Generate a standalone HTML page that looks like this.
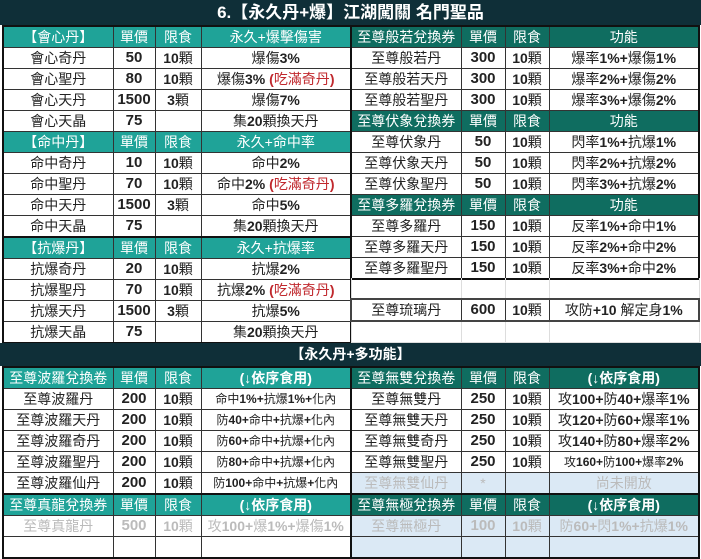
<!DOCTYPE html><html><head><meta charset="utf-8"><style>
body{margin:0;width:701px;height:540px;overflow:hidden;background:#fff;font-family:"Liberation Sans","Noto Sans CJK TC",sans-serif;position:relative}
.bar{position:absolute;left:0;width:701px;background:#0f2f38;color:#fff;font-weight:bold;text-align:center}
table{position:absolute;border-collapse:collapse;table-layout:fixed;font-size:14px;color:#222;border:2px solid #111}
td{border:1px solid #333;height:20px;padding:0;text-align:center;white-space:nowrap;overflow:hidden;line-height:20px}
tr.h td{background:#1fa398;color:#fff;font-size:14px}
tr.hd td{background:#0f6d60;color:#fff}
td.n{font-weight:bold;font-size:15px}
.red{color:#c0282d}
.y{color:#e8f03a;font-weight:bold}
.s{font-size:12px}
tr.g td{color:#bbb}
tr.gb td{color:#bbb;background:#dbe9f5}
</style></head><body>
<div class="bar" style="top:0;height:25px;line-height:25px;font-size:17px">6.【永久丹+爆】江湖闖關 名門聖品</div>

<table style="left:2px;top:25px;width:348px">
<col style="width:110px"><col style="width:42px"><col style="width:46px"><col style="width:150px">
<tr class="h"><td>【會心丹】</td><td>單價</td><td>限食</td><td>永久+爆擊傷害</td></tr>
<tr><td>會心奇丹</td><td class="n">50</td><td><b>10</b>顆</td><td>爆傷<b>3%</b></td></tr>
<tr><td>會心聖丹</td><td class="n">80</td><td><b>10</b>顆</td><td>爆傷<b>3%</b> <span class="red"><b>(</b>吃滿奇丹<b>)</b></span></td></tr>
<tr><td>會心天丹</td><td class="n">1500</td><td><b>3</b>顆</td><td>爆傷<b>7%</b></td></tr>
<tr><td>會心天晶</td><td class="n">75</td><td></td><td>集<b>20</b>顆換天丹</td></tr>
<tr class="h"><td>【命中丹】</td><td>單價</td><td>限食</td><td>永久+命中率</td></tr>
<tr><td>命中奇丹</td><td class="n">10</td><td><b>10</b>顆</td><td>命中<b>2%</b></td></tr>
<tr><td>命中聖丹</td><td class="n">70</td><td><b>10</b>顆</td><td>命中<b>2%</b> <span class="red"><b>(</b>吃滿奇丹<b>)</b></span></td></tr>
<tr><td>命中天丹</td><td class="n">1500</td><td><b>3</b>顆</td><td>命中<b>5%</b></td></tr>
<tr style="border-bottom:2px solid #111"><td>命中天晶</td><td class="n">75</td><td></td><td>集<b>20</b>顆換天丹</td></tr>
<tr class="h"><td>【抗爆丹】</td><td>單價</td><td>限食</td><td>永久+抗爆率</td></tr>
<tr><td>抗爆奇丹</td><td class="n">20</td><td><b>10</b>顆</td><td>抗爆<b>2%</b></td></tr>
<tr><td>抗爆聖丹</td><td class="n">70</td><td><b>10</b>顆</td><td>抗爆<b>2%</b> <span class="red"><b>(</b>吃滿奇丹<b>)</b></span></td></tr>
<tr><td>抗爆天丹</td><td class="n">1500</td><td><b>3</b>顆</td><td>抗爆<b>5%</b></td></tr>
<tr><td>抗爆天晶</td><td class="n">75</td><td></td><td>集<b>20</b>顆換天丹</td></tr>
</table>

<table style="left:350px;top:25px;width:348px">
<col style="width:110px"><col style="width:44px"><col style="width:44px"><col style="width:150px">
<tr class="hd"><td>至尊般若兌換券</td><td>單價</td><td>限食</td><td>功能</td></tr>
<tr><td>至尊般若丹</td><td class="n">300</td><td><b>10</b>顆</td><td>爆率<b>1%+</b>爆傷<b>1%</b></td></tr>
<tr><td>至尊般若天丹</td><td class="n">300</td><td><b>10</b>顆</td><td>爆率<b>2%+</b>爆傷<b>2%</b></td></tr>
<tr><td>至尊般若聖丹</td><td class="n">300</td><td><b>10</b>顆</td><td>爆率<b>3%+</b>爆傷<b>2%</b></td></tr>
<tr class="hd"><td>至尊伏象兌換券</td><td>單價</td><td>限食</td><td>功能</td></tr>
<tr><td>至尊伏象丹</td><td class="n">50</td><td><b>10</b>顆</td><td>閃率<b>1%+</b>抗爆<b>1%</b></td></tr>
<tr><td>至尊伏象天丹</td><td class="n">50</td><td><b>10</b>顆</td><td>閃率<b>2%+</b>抗爆<b>2%</b></td></tr>
<tr><td>至尊伏象聖丹</td><td class="n">50</td><td><b>10</b>顆</td><td>閃率<b>3%+</b>抗爆<b>2%</b></td></tr>
<tr class="hd"><td>至尊多羅兌換券</td><td>單價</td><td>限食</td><td>功能</td></tr>
<tr><td>至尊多羅丹</td><td class="n">150</td><td><b>10</b>顆</td><td>反率<b>1%+</b>命中<b>1%</b></td></tr>
<tr><td>至尊多羅天丹</td><td class="n">150</td><td><b>10</b>顆</td><td>反率<b>2%+</b>命中<b>2%</b></td></tr>
<tr><td>至尊多羅聖丹</td><td class="n">150</td><td><b>10</b>顆</td><td>反率<b>3%+</b>命中<b>2%</b></td></tr>
</table>
<table style="left:350px;top:278px;width:348px;border:none">
<col style="width:110px"><col style="width:44px"><col style="width:44px"><col style="width:150px">
<tr><td style="border-color:#ddd;border-top:none"></td><td style="border-color:#ddd;border-top:none"></td><td style="border-color:#ddd;border-top:none"></td><td style="border-color:#ddd;border-top:none"></td></tr>
<tr style="border:2px solid #444"><td>至尊琉璃丹</td><td class="n">600</td><td><b>10</b>顆</td><td>攻防<b>+10</b> 解定身<b>1%</b></td></tr>
<tr><td style="border-color:#ddd"></td><td style="border-color:#ddd"></td><td style="border-color:#ddd"></td><td style="border-color:#ddd"></td></tr>
</table>

<div class="bar" style="top:343px;height:23px;line-height:23px;font-size:14px">【永久丹+多功能】</div>

<table style="left:2px;top:366px;width:348px">
<col style="width:110px"><col style="width:42px"><col style="width:46px"><col style="width:150px">
<tr class="h"><td>至尊波羅兌換卷</td><td>單價</td><td>限食</td><td class="y">(↓依序食用)</td></tr>
<tr><td>至尊波羅丹</td><td class="n">200</td><td><b>10</b>顆</td><td class="s">命中<b>1%+</b>抗爆<b>1%+</b>化內</td></tr>
<tr><td>至尊波羅天丹</td><td class="n">200</td><td><b>10</b>顆</td><td class="s">防<b>40+</b>命中<b>+</b>抗爆<b>+</b>化內</td></tr>
<tr><td>至尊波羅奇丹</td><td class="n">200</td><td><b>10</b>顆</td><td class="s">防<b>60+</b>命中<b>+</b>抗爆<b>+</b>化內</td></tr>
<tr><td>至尊波羅聖丹</td><td class="n">200</td><td><b>10</b>顆</td><td class="s">防<b>80+</b>命中<b>+</b>抗爆<b>+</b>化內</td></tr>
<tr style="border-bottom:2px solid #111"><td>至尊波羅仙丹</td><td class="n">200</td><td><b>10</b>顆</td><td class="s">防<b>100+</b>命中<b>+</b>抗爆<b>+</b>化內</td></tr>
<tr class="h"><td>至尊真龍兌換券</td><td>單價</td><td>限食</td><td class="y">(↓依序食用)</td></tr>
<tr class="g"><td>至尊真龍丹</td><td class="n">500</td><td><b>10</b>顆</td><td>攻<b>100+</b>爆<b>1%+</b>爆傷<b>1%</b></td></tr>
<tr class="g"><td></td><td></td><td></td><td></td></tr>
</table>

<table style="left:350px;top:366px;width:348px">
<col style="width:110px"><col style="width:44px"><col style="width:44px"><col style="width:150px">
<tr class="hd"><td>至尊無雙兌換卷</td><td>單價</td><td>限食</td><td class="y">(↓依序食用)</td></tr>
<tr><td>至尊無雙丹</td><td class="n">250</td><td><b>10</b>顆</td><td>攻<b>100+</b>防<b>40+</b>爆率<b>1%</b></td></tr>
<tr><td>至尊無雙天丹</td><td class="n">250</td><td><b>10</b>顆</td><td>攻<b>120+</b>防<b>60+</b>爆率<b>1%</b></td></tr>
<tr><td>至尊無雙奇丹</td><td class="n">250</td><td><b>10</b>顆</td><td>攻<b>140+</b>防<b>80+</b>爆率<b>2%</b></td></tr>
<tr><td>至尊無雙聖丹</td><td class="n">250</td><td><b>10</b>顆</td><td class="s">攻<b>160+</b>防<b>100+</b>爆率<b>2%</b></td></tr>
<tr class="gb" style="border-bottom:2px solid #111"><td>至尊無雙仙丹</td><td>*</td><td></td><td>尚未開放</td></tr>
<tr class="hd"><td>至尊無極兌換券</td><td>單價</td><td>限食</td><td class="y">(↓依序食用)</td></tr>
<tr class="gb"><td>至尊無極丹</td><td class="n">100</td><td><b>10</b>顆</td><td>防<b>60+</b>閃<b>1%+</b>抗爆<b>1%</b></td></tr>
<tr class="gb"><td></td><td></td><td></td><td></td></tr>
</table>
</body></html>
